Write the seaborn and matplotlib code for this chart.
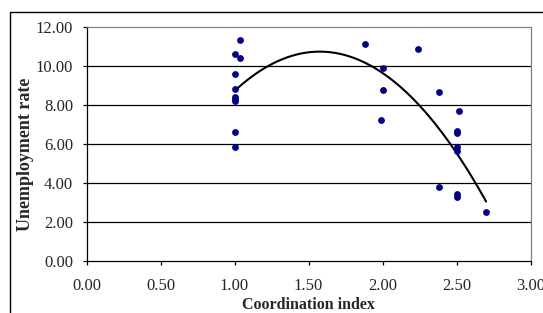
import matplotlib
matplotlib.use("Agg")
import matplotlib.pyplot as plt
import seaborn as sns
import numpy as np
import pandas as pd
from matplotlib.patches import Rectangle

coordination = [1.00, 1.04, 1.04, 1.00, 1.00, 1.00, 1.00, 1.00, 1.00, 1.00,
                1.88, 2.00, 2.00, 1.99, 2.24, 2.38, 2.38, 2.52, 2.50, 2.50,
                2.50, 2.50, 2.50, 2.50, 2.70]
unemployment = [10.60, 11.30, 10.37, 9.55, 8.80, 8.37, 8.28, 8.18, 6.60, 5.85,
                11.13, 9.87, 8.73, 7.22, 10.85, 8.67, 3.77, 7.70, 6.67, 6.55,
                5.85, 5.64, 3.41, 3.29, 2.52]
x_ticks = [0.0, 0.5, 1.0, 1.5, 2.0, 2.5, 3.0]
y_ticks = [0, 2, 4, 6, 8, 10, 12]

df = pd.DataFrame({"Coordination index": coordination,
                   "Unemployment rate": unemployment})

sns.set_style("white")
plt.rcParams['font.family'] = ['Liberation Serif', 'DejaVu Serif']

fig = plt.figure(figsize=(5.43, 3.13), dpi=100)
ax = fig.add_axes([86.5/543, 1-260.7/313, (530.5-86.5)/543, (260.7-26.7)/313])

for yv in y_ticks[1:-1]:
    ax.axhline(yv, color="black", lw=0.9, zorder=1)

sns.regplot(data=df, x="Coordination index", y="Unemployment rate", order=2,
            ci=None, truncate=True, ax=ax,
            scatter_kws=dict(s=24, color="#000080", alpha=1, linewidths=0, zorder=3),
            line_kws=dict(color="black", lw=1.5, zorder=2))

ax.set_xlim(0, 3)
ax.set_ylim(0, 12)
ax.set_xticks(x_ticks)
ax.set_xticklabels([f"{v:.2f}" for v in x_ticks], fontsize=12)
ax.set_yticks(y_ticks)
ax.set_yticklabels([f"{v:.2f}" for v in y_ticks], fontsize=12)
ax.tick_params(axis="both", direction="out", length=3.1, width=0.9, color="black",
               bottom=True, left=True)
ax.tick_params(axis="x", pad=9.5)
ax.tick_params(axis="y", pad=6.5)
ax.set_xlabel("Coordination index", fontsize=11.5, fontweight="bold", labelpad=2)
ax.set_ylabel("Unemployment rate", fontsize=13, fontweight="bold", labelpad=1)
ax.yaxis.label.set_y(0.456)

for side in ["left", "bottom"]:
    ax.spines[side].set_color("black")
    ax.spines[side].set_linewidth(0.9)
for side in ["top", "right"]:
    ax.spines[side].set_color("#808080")
    ax.spines[side].set_linewidth(0.9)
    ax.spines[side].set_visible(True)

fig.patches.append(Rectangle((10.3/543, -1), 3, 1 + (1 - 12.3/313), transform=fig.transFigure,
                             fill=False, edgecolor="black", lw=1.0))

fig.savefig("out.png", dpi=100)
